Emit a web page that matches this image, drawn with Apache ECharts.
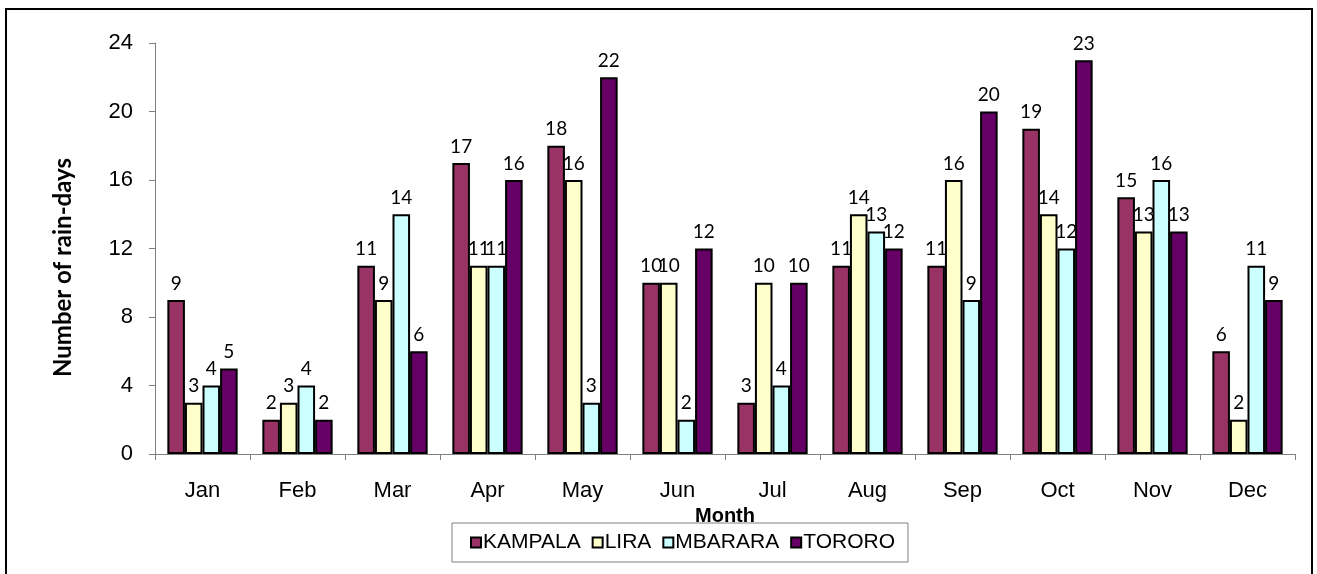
<!DOCTYPE html>
<html>
<head>
<meta charset="utf-8">
<script src="https://cdn.jsdelivr.net/npm/echarts@6/dist/echarts.min.js"></script>
<style>
html,body{margin:0;padding:0;background:#fff;}
#c{width:1317px;height:574px;}
</style>
</head>
<body>
<div id="c"></div>
<script>
const months = ['Jan','Feb','Mar','Apr','May','Jun','Jul','Aug','Sep','Oct','Nov','Dec'];
const kampala = [9,2,11,17,18,10,3,11,11,19,15,6];
const lira = [3,3,9,11,16,10,10,14,16,14,13,2];
const mbarara = [4,4,14,11,3,2,4,13,9,12,16,11];
const tororo = [5,2,6,16,22,12,10,12,20,23,13,9];
const yTicks = [0,4,8,12,16,20,24];

const FONT = '"Liberation Sans", Arial, sans-serif';
const LFONT = 'Lato, "Open Sans", sans-serif';
const chart = echarts.init(document.getElementById('c'));
function mk(name, data, color){
  return {
    name, type:'bar', data,
    barGap:'0%', barCategoryGap:'26%',
    itemStyle:{color, borderColor:'#000', borderWidth:2},
    label:{show:true, position:'top', distance:7, color:'#000', fontSize:19, fontFamily:LFONT},
    animation:false
  };
}
chart.setOption({
  animation:false,
  textStyle:{fontFamily:FONT},
  grid:{left:155, right:22, top:43, bottom:120, containLabel:false},
  graphic:[{type:'rect', shape:{x:6, y:9, width:1306, height:600}, style:{fill:'none', stroke:'#000', lineWidth:2}, silent:true}],
  xAxis:{
    type:'category', data:months,
    name:'Month', nameLocation:'middle', nameGap:52,
    nameTextStyle:{fontWeight:'bold', fontSize:20, color:'#000', fontFamily:FONT},
    axisLine:{lineStyle:{color:'#808080', width:1}},
    axisTick:{show:true, length:6, lineStyle:{color:'#808080'}},
    axisLabel:{color:'#000', fontSize:22, margin:26, fontFamily:FONT}
  },
  yAxis:{
    type:'value', min:0, max:24, interval:4,
    name:'Number of rain-days', nameLocation:'middle', nameGap:80, nameRotate:90,
    nameTextStyle:{fontWeight:'bold', fontSize:24, color:'#000', fontFamily:LFONT, padding:[0,38,0,0]},
    axisLine:{show:true, lineStyle:{color:'#808080', width:1}},
    axisTick:{show:true, length:6, lineStyle:{color:'#808080'}},
    splitLine:{show:false},
    axisLabel:{color:'#000', fontSize:22, margin:22, fontFamily:FONT,
      formatter:v=>yTicks.includes(v)?String(v):''}
  },
  legend:{
    data:['KAMPALA','LIRA','MBARARA','TORORO'],
    left:452, top:523, width:460,
    itemWidth:10, itemHeight:10, itemGap:11,
    padding:[9,13,9,18],
    borderColor:'#808080', borderWidth:1,
    icon:'rect',
    textStyle:{fontSize:21, color:'#000', fontFamily:FONT, padding:[0,0,0,-3]},
    itemStyle:{borderColor:'#000', borderWidth:2}
  },
  series:[
    mk('KAMPALA', kampala, '#993366'),
    mk('LIRA', lira, '#FFFFCC'),
    mk('MBARARA', mbarara, '#CCFFFF'),
    mk('TORORO', tororo, '#660066')
  ]
});
</script>
</body>
</html>
